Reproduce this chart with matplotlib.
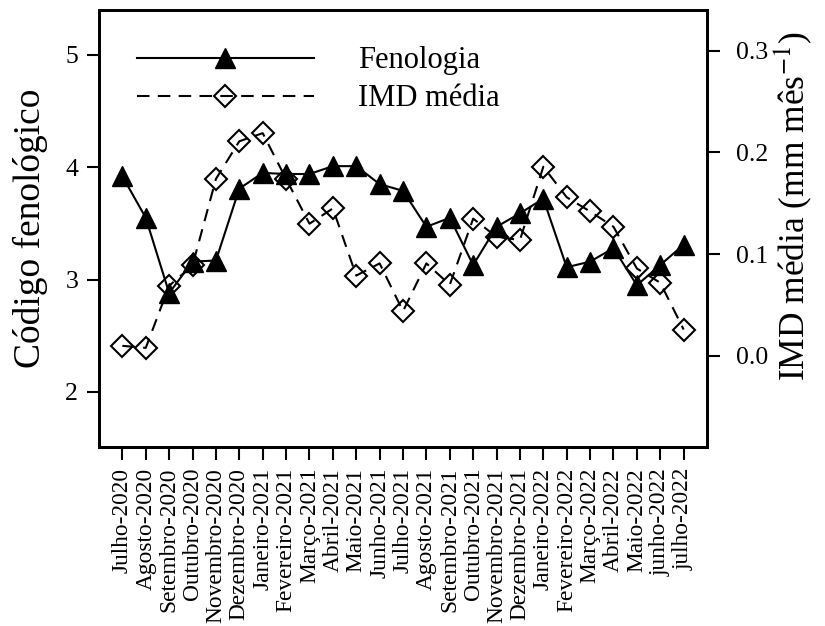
import matplotlib
matplotlib.use("Agg")
import matplotlib.pyplot as plt

plt.rcParams['font.family'] = ['Liberation Serif', 'DejaVu Serif']
plt.rcParams['mathtext.fontset'] = 'stix'

meses = ['Julho-2020', 'Agosto-2020', 'Setembro-2020', 'Outubro-2020', 'Novembro-2020',
         'Dezembro-2020', 'Janeiro-2021', 'Fevereiro-2021', 'Março-2021', 'Abril-2021',
         'Maio-2021', 'Junho-2021', 'Julho-2021', 'Agosto-2021', 'Setembro-2021',
         'Outubro-2021', 'Novembro-2021', 'Dezembro-2021', 'Janeiro-2022', 'Fevereiro-2022',
         'Março-2022', 'Abril-2022', 'Maio-2022', 'junho-2022', 'julho-2022']

fenologia = [3.92, 3.55, 2.88, 3.16, 3.17, 3.81, 3.95, 3.94, 3.94, 4.01,
             4.01, 3.85, 3.79, 3.47, 3.55, 3.13, 3.47, 3.59, 3.72, 3.11,
             3.16, 3.28, 2.95, 3.13, 3.31]

imd = [0.010, 0.008, 0.069, 0.089, 0.174, 0.211, 0.219, 0.174, 0.130, 0.145,
       0.079, 0.091, 0.044, 0.091, 0.070, 0.135, 0.117, 0.114, 0.186, 0.156,
       0.142, 0.127, 0.086, 0.072, 0.026]

x = list(range(len(meses)))

fig = plt.figure(figsize=(8.25, 6.26), dpi=100)
ax = fig.add_axes([0.12, 0.286, 0.737, 0.698])
ax2 = ax.twinx()

l1, = ax.plot(x, fenologia, '-', color='black', lw=1.5, marker='^', ms=14,
              mfc='black', mec='black', label='Fenologia', zorder=3)
l2, = ax2.plot(x, imd, '--', color='black', lw=1.5, dashes=(6, 4), marker='D', ms=11,
               mfc='none', mec='black', mew=1.5, label='IMD média')

ax.set_xlim(-1, 25)
ax.set_ylim(1.51, 5.40)
ax2.set_ylim(-0.0894, 0.340)
ax.set_yticks([2, 3, 4, 5])
ax2.set_yticks([0.0, 0.1, 0.2, 0.3])
ax2.set_yticklabels(['0.0', '0.1', '0.2', '0.3'])
ax.set_xticks(x)
ax.set_xticklabels(meses, rotation=90)

for a in (ax, ax2):
    for s in a.spines.values():
        s.set_linewidth(2)
    a.tick_params(direction='out', length=9, width=1.5, labelsize=18.5, pad=6)
ax2.tick_params(axis='y', pad=12)
ax.tick_params(axis='x', labelsize=16.8, pad=6)

ax.set_ylabel('Código fenológico', fontsize=27)
ax.yaxis.set_label_coords(-0.084, 0.5)
ax2.set_ylabel('IMD média (mm mês$^{-1}$)', fontsize=25.5)
ax2.yaxis.set_label_coords(1.107, 0.55)

ax.legend([l1, l2], ['Fenologia', 'IMD média'], loc='upper left', frameon=False,
          fontsize=22, handlelength=5.8, handletextpad=1.45, labelspacing=0.3,
          numpoints=1, bbox_to_anchor=(0.017, 0.98))

fig.savefig('out.png', dpi=100)
